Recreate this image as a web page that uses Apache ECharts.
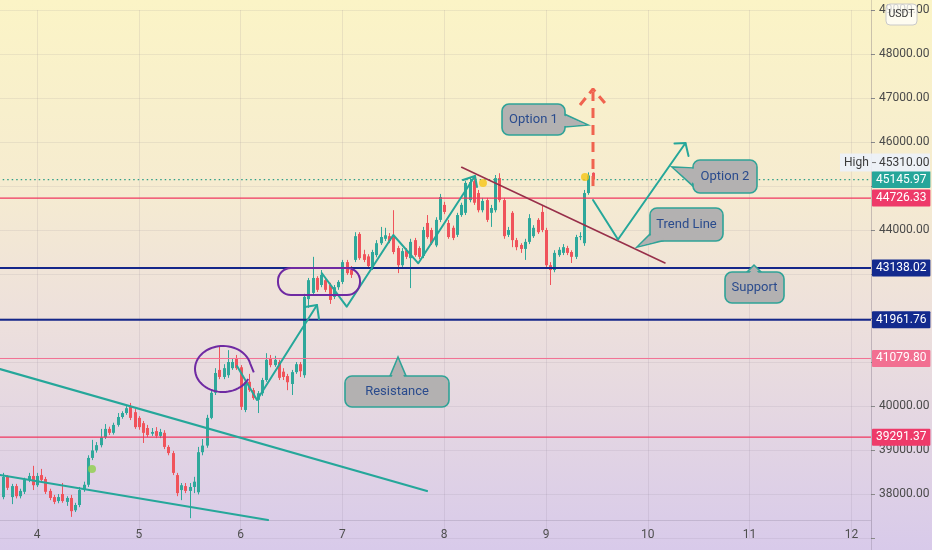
<!DOCTYPE html>
<html><head><meta charset="utf-8">
<script src="https://cdn.jsdelivr.net/npm/echarts@6/dist/echarts.min.js"></script>
<style>
html,body{margin:0;padding:0;width:932px;height:550px;overflow:hidden;
background:linear-gradient(to bottom,#fbf4c6 0%,#f6ecd0 33%,#ede0dc 58%,#d8caea 100%);}
#c{width:932px;height:550px;}
</style></head><body><div id="c"></div>
<script>
// ---- data ----
const startDay = 3 + 16/24;   // first hourly candle: day 3, 16:00
const hourStep = 1/24;
const opens = [
37930,38390,37930,38180,37950,38050,38320,38410,38200,38430,
38340,38070,37930,37840,38000,37820,37910,37630,37750,38090,
38210,38820,38990,39110,39290,39480,39390,39570,39750,39840,
39980,39860,39730,39610,39500,39370,39430,39320,39390,39070,
38930,38430,38090,38180,38070,38160,38040,38950,39100,39730,
40300,40820,40660,40700,40860,41090,40880,39910,40550,40360,
40140,40290,40590,41090,40930,41000,40780,40680,40500,40770,
40950,40700,42430,42570,42910,42750,42860,42750,42480,42700,
42820,43270,43090,43320,43910,43450,43400,43140,43430,43700,
43800,43860,43840,43590,43200,43540,43360,43770,43590,43410,
44160,44000,43650,44230,44570,44160,44050,43890,44340,44390,
44680,45110,44840,44450,44680,44390,44450,45180,44680,43890,
44390,43770,43660,43570,43730,43860,44230,44410,44000,43200,
43090,43430,43480,43590,43500,43390,43840,43700,44840,45300];
const closes = [
38390,38140,38180,37950,38070,38320,38410,38200,38410,38320,
38050,37910,37820,37930,37840,37910,37610,37750,38090,38210,
38820,38990,39110,39290,39480,39390,39570,39750,39840,39950,
39730,39520,39520,39390,39340,39410,39320,39410,39070,38930,
38480,38020,38200,38070,38160,38280,38950,39100,39730,40300,
40750,40660,40860,41000,41000,40860,39980,40550,40360,40180,
40290,40590,41050,40930,41050,40640,40660,40540,40770,40950,
40790,42480,42860,42910,42640,42980,42640,42410,42700,42820,
43270,43020,42980,43860,43360,43320,43180,43500,43700,43840,
43880,43750,43500,43200,43520,43390,43730,43430,43390,44000,
43840,43700,44230,44750,44410,43840,43820,44340,44570,45070,
45090,44620,44450,44660,44230,44500,45180,44680,43860,44000,
43770,43610,43570,43730,44270,44050,43950,44000,43200,43090,
43480,43550,43610,43480,43390,43840,43860,44840,45240,45145.97];
const highs = [
38480,38430,38230,38230,38120,38370,38480,38640,38480,38570,
38390,38120,37980,38000,38250,37950,37980,37800,38160,38280,
38880,39230,39180,39480,39590,39530,39620,39840,39880,40020,
40070,39930,39770,39660,39570,39500,39520,39480,39450,39110,
38980,38480,38250,38250,38250,38390,39070,39250,39800,40370,
40860,41340,40950,41270,41090,41160,40930,40600,40730,40410,
40340,40640,41200,41160,41140,41050,40860,40730,40820,41000,
41000,42550,42910,43390,42950,43090,42910,42800,42750,42860,
43320,43320,43180,43950,43950,43550,43450,43550,43770,44070,
44050,43930,44450,43640,43590,43590,43800,43820,43630,44070,
44340,44050,44290,44820,44640,44230,44100,44390,44620,45120,
45200,45200,44910,44730,44730,44570,45250,45290,44730,44070,
44430,43820,43700,43800,44360,44110,44270,44570,44050,43270,
43540,43610,43680,43640,43540,43890,43950,44910,45310,45310];
const lows = [
37880,38090,37770,37900,37900,38000,38270,38090,38160,38270,
38000,37860,37770,37790,37800,37730,37480,37590,37700,38050,
38160,38770,38940,39060,39250,39340,39350,39530,39710,39800,
39680,39480,39460,39160,39290,39320,39270,39270,39020,38880,
38430,37950,37860,38020,37450,38020,37990,38880,39050,39700,
40250,40610,40610,40640,40820,40820,39910,39860,40320,40140,
39840,40230,40550,40880,40890,40590,40590,40360,40250,40730,
40660,40640,42230,42520,42590,42700,42590,42320,42430,42640,
42770,42980,42910,43270,43320,43270,43140,43090,43380,43660,
43750,43700,43450,43020,43160,43340,42680,43390,43340,43360,
43800,43660,43610,44180,44360,43800,43770,43840,44300,44340,
44630,44570,44400,44400,44180,44070,44400,44630,43800,43840,
43610,43540,43480,43320,43680,43820,43910,43950,43150,42750,
43040,43390,43430,43430,43250,43340,43770,43640,44800,45000];

const dayLabels = [4,5,6,7,8,9,10,11,12];
const hiddenPriceLabels = [37000,41000,42000,43000,45000];
const highPrice = 45310.00;
const lastPrice = 45145.97;

// horizontal levels
const levelValues = [45145.97, 44726.33, 43138.02, 41961.76, 41079.80, 39291.37];
const levelKinds  = ['last','pink','navy','navy','lightpink','pink'];

// drawings (anchors in [day, price])
const upperChannel = [[3.6365,40841],[7.831,38068]];
const lowerChannel = [[3.6365,38432],[6.269,37409]];
const zigzag1 = [[5.9646,40909],[6.1611,40136],[6.7505,42295]];
const zigzag1Head = [[6.6326,42250],[6.7505,42295],[6.770,41977]];
const zigzag2 = [[6.7967,43023],[7.0422,42257],[7.5,43886],[7.7456,43243],[8.3026,45227]];
const zigzag2Head = [[8.1847,45136],[8.3026,45227],[8.3222,44977]];
const trendLine = [[8.1719,45425],[10.169,43250]];
const option2Path = [[9.4617,44682],[9.7073,43784],[10.3703,45977]];
const option2Head = [[10.262,45966],[10.3703,45977],[10.3998,45682]];
const option1Shaft = [[9.4617,45000],[9.4617,47136]];
const option1Head = [[9.3339,46841],[9.4617,47204],[9.594,46841]];
const circleMark = {center:[5.8271,40841], rx:0.275, ry:523};
const boxMark = [6.367,43136,7.173,42523];
const yellowDots = [[8.381,45068],[9.3831,45204]];
const greenDots = [[4.5403,38568]];

const calloutTexts = ['Option 1','Option 2','Trend Line','Support','Resistance'];
const calloutBoxes = [
  [8.568,46863,9.1866,46159],
  [10.444,45591,11.0727,44841],
  [10.0216,44500,10.7387,43750],
  [10.7583,43045,11.338,42341],
  [7.0255,40682,8.0472,39977]];
const calloutBases = [
  [[9.1375,46682],[9.1866,46341]],
  [[10.444,45409],[10.444,44998]],
  [[10.0216,43909],[10.1395,43750]],
  [[10.9745,43045],[11.112,43045]],
  [[7.4676,40682],[7.6248,40682]]];
const calloutTips = [[9.4126,46386],[10.2377,45432],[9.894,43614],[11.0432,43204],[7.5462,41114]];

// ---- styling ----
const UP='#2fa89b', DOWN='#f0535b', TEAL='#25a79a', PURPLE='#6f2aa3', FONT='Roboto';
const X_MIN=3, X_MAX=12.1925, Y_MIN=37000, Y_MAX=49000;
const levelStyle = {
  last:{line:'#2f9e86', width:1.3, type:[1.5,3], bg:'#26a69a'},
  pink:{line:'#f0365f', width:1.2, type:'solid', bg:'#ee3a69'},
  navy:{line:'#14268a', width:2, type:'solid', bg:'#132a8e'},
  lightpink:{line:'#f27093', width:1, type:'solid', bg:'#f26f91'}
};

const candleData = opens.map((o,i)=>[startDay+i*hourStep, o, closes[i], lows[i], highs[i]]);

const chart = echarts.init(document.getElementById('c'), null, {renderer:'canvas'});

function lineSeries(data, color, width, z, extra){
  return Object.assign({type:'line', data, symbol:'none', silent:true, animation:false, z:z||5,
    lineStyle:{color, width:width||2, cap:'round', join:'round'}}, extra||{});
}

const series = [];
// candles
series.push({type:'custom', data:candleData, z:3, animation:false, silent:true,
  encode:{x:0, y:[1,2,3,4]},
  renderItem:(p,api)=>{
    const x=api.value(0), o=api.value(1), c=api.value(2), l=api.value(3), h=api.value(4);
    const po=api.coord([x,o]), pc=api.coord([x,c]), pl=api.coord([x,l]), ph=api.coord([x,h]);
    const col = c>=o?UP:DOWN; const w=3;
    const cx=Math.round(po[0])+0.5;
    const top=Math.min(po[1],pc[1]); const hh=Math.max(1,Math.abs(po[1]-pc[1]));
    return {type:'group', children:[
      {type:'line', shape:{x1:cx,y1:ph[1],x2:cx,y2:pl[1]}, style:{stroke:col,lineWidth:1}},
      {type:'rect', shape:{x:cx-w/2, y:top, width:w, height:hh}, style:{fill:col}}
    ]};
  }});

// levels
levelValues.forEach((v,i)=>{
  const s=levelStyle[levelKinds[i]];
  series.push({type:'line', data:[[X_MIN,v],[X_MAX,v]], symbol:'none', silent:true, animation:false, z:4,
    lineStyle:{color:s.line, width:s.width, type:s.type},
    endLabel:{show:true, formatter:()=>v.toFixed(2), color:'#fff', backgroundColor:s.bg,
      padding:[3,4,2,4], distance:1, fontSize:12, fontFamily:FONT, borderRadius:1}});
});

// drawings
series.push(lineSeries(upperChannel, TEAL, 2.2));
series.push(lineSeries(lowerChannel, TEAL, 2.2));
series.push(lineSeries(zigzag1, TEAL, 2));
series.push(lineSeries(zigzag1Head, TEAL, 2));
series.push(lineSeries(zigzag2, TEAL, 2));
series.push(lineSeries(zigzag2Head, TEAL, 2));
series.push(lineSeries(trendLine, '#98304a', 1.6));
series.push(lineSeries(option2Path, TEAL, 2));
series.push(lineSeries(option2Head, TEAL, 2));
series.push(lineSeries(option1Shaft, '#f0634f', 3, 5, {lineStyle:{color:'#f0634f', width:3, type:[10,7], cap:'butt'}}));
series.push(lineSeries(option1Head, '#f0634f', 3, 5, {lineStyle:{color:'#f0634f', width:3, type:[9,6], cap:'butt'}}));

// purple ellipse
series.push({type:'custom', data:[circleMark.center], z:6, silent:true, animation:false,
  renderItem:(p,api)=>{
    const c=api.coord(circleMark.center);
    const rx=api.size([circleMark.rx,0])[0], ry=api.size([0,circleMark.ry])[1];
    const pts=[];
    for(let k=0;k<=60;k++){const t=0.45+(2*Math.PI-0.7)*k/60; pts.push([c[0]+rx*Math.cos(t), c[1]+ry*Math.sin(t)]);}
    pts.push([c[0]+rx*1.1, c[1]+ry*0.15]);
    return {type:'polyline', shape:{points:pts}, style:{stroke:PURPLE, lineWidth:2, fill:'none'}};
  }});
// purple rounded box
series.push({type:'custom', data:[[boxMark[0],boxMark[1]]], z:6, silent:true, animation:false,
  renderItem:(p,api)=>{
    const a=api.coord([boxMark[0],boxMark[1]]), b=api.coord([boxMark[2],boxMark[3]]);
    return {type:'rect', shape:{x:a[0],y:a[1],width:b[0]-a[0],height:b[1]-a[1],r:13},
      style:{stroke:PURPLE, lineWidth:2, fill:'none'}};
  }});

// dots
series.push({type:'scatter', data:yellowDots, symbolSize:8, itemStyle:{color:'#f7c514'}, z:7, silent:true, animation:false});
series.push({type:'scatter', data:greenDots, symbolSize:8, itemStyle:{color:'#8fcf4a'}, z:7, silent:true, animation:false});

// callouts
const FILL='#b3b1b1', BORDER='#2fa397', TXT='#2a4b8d';
series.push({type:'custom', data:calloutTips, z:8, silent:true, animation:false,
  renderItem:(p,api)=>{
    const i=p.dataIndex, bx=calloutBoxes[i];
    const a=api.coord([bx[0],bx[1]]), b=api.coord([bx[2],bx[3]]);
    const tip=api.coord(calloutTips[i]);
    const b1=api.coord(calloutBases[i][0]), b2=api.coord(calloutBases[i][1]);
    const cx=(a[0]+b[0])/2, cy=(a[1]+b[1])/2;
    const inward=(pt,d)=>{const dx=cx-pt[0], dy=cy-pt[1], L=Math.hypot(dx,dy)||1; return [pt[0]+dx/L*d, pt[1]+dy/L*d];};
    const mid=[(b1[0]+b2[0])/2,(b1[1]+b2[1])/2];
    const tdx=mid[0]-tip[0], tdy=mid[1]-tip[1], tl=Math.hypot(tdx,tdy)||1;
    const tipIn=[tip[0]+tdx/tl*2.2, tip[1]+tdy/tl*2.2];
    return {type:'group', children:[
      {type:'polygon', shape:{points:[b1,tip,b2]}, style:{fill:FILL, stroke:BORDER, lineWidth:1.6}},
      {type:'rect', shape:{x:a[0],y:a[1],width:b[0]-a[0],height:b[1]-a[1],r:7}, style:{fill:FILL, stroke:BORDER, lineWidth:1.6}},
      {type:'polygon', shape:{points:[inward(b1,3),tipIn,inward(b2,3)]}, style:{fill:FILL}},
      {type:'text', x:cx, y:cy+0.5, style:{text:calloutTexts[i], fill:TXT, fontSize:13, fontFamily:FONT,
        align:'center', verticalAlign:'middle', textAlign:'center', textVerticalAlign:'middle'}}
    ]};
  }});

const option = {
  animation:false,
  backgroundColor:'transparent',
  grid:{left:-64.8, right:61, top:10, bottom:12, containLabel:false, outerBoundsMode:'none'},
  xAxis:{type:'value', min:X_MIN, max:X_MAX, interval:1, offset:-18,
    axisLine:{show:false}, axisTick:{show:false},
    axisLabel:{color:'#4f4f4f', fontSize:12, fontFamily:FONT, margin:9, showMaxLabel:false,
      formatter:v=>{const r=Math.round(v); return (Math.abs(v-r)<1e-6 && dayLabels.includes(r))? String(r):'';}},
    splitLine:{show:true, lineStyle:{color:'rgba(120,110,130,0.13)', width:1}}},
  yAxis:{type:'value', position:'right', min:Y_MIN, max:Y_MAX, interval:1000,
    axisLine:{show:false},
    axisTick:{show:true, length:4, lineStyle:{color:'#8a8a8a'}},
    axisLabel:{color:'#4a4a4a', fontSize:12, fontFamily:FONT, margin:8,
      formatter:v=>hiddenPriceLabels.includes(Math.round(v))?'':v.toFixed(2)},
    splitLine:{show:true, lineStyle:{color:'rgba(120,110,130,0.11)', width:1}}},
  series
};
chart.setOption(option);

// chrome: axis separators, High label, currency box
const hy = Math.min(chart.convertToPixel({yAxisIndex:0}, highPrice), chart.convertToPixel({yAxisIndex:0}, lastPrice)-17);
chart.setOption({graphic:[
  {type:'line', shape:{x1:871.5,y1:0,x2:871.5,y2:550}, style:{stroke:'rgba(90,80,100,0.22)', lineWidth:1}, z:1, silent:true},
  {type:'line', shape:{x1:0,y1:520.5,x2:871,y2:520.5}, style:{stroke:'rgba(90,80,100,0.18)', lineWidth:1}, z:1, silent:true},
  {type:'rect', shape:{x:840,y:hy-9,width:90,height:18}, style:{fill:'rgba(236,241,250,0.92)'}, z:20, silent:true},
  {type:'text', x:844, y:hy, style:{text:'High', fill:'#3b3b3b', fontSize:12, fontFamily:FONT, verticalAlign:'middle', textVerticalAlign:'middle'}, z:21, silent:true},
  {type:'line', shape:{x1:872,y1:hy,x2:876,y2:hy}, style:{stroke:'#777', lineWidth:1}, z:21, silent:true},
  {type:'text', x:879, y:hy, style:{text:highPrice.toFixed(2), fill:'#3b3b3b', fontSize:12, fontFamily:FONT, verticalAlign:'middle', textVerticalAlign:'middle'}, z:21, silent:true},
  {type:'rect', shape:{x:886,y:4,width:31,height:21,r:4}, style:{fill:'rgba(255,255,255,0.75)', stroke:'#c9c9c9', lineWidth:1}, z:20, silent:true},
  {type:'text', x:901.5, y:14.5, style:{text:'USDT', fill:'#333', fontSize:10.5, fontFamily:FONT, align:'center', verticalAlign:'middle', textAlign:'center', textVerticalAlign:'middle'}, z:21, silent:true}
]});
</script></body></html>
